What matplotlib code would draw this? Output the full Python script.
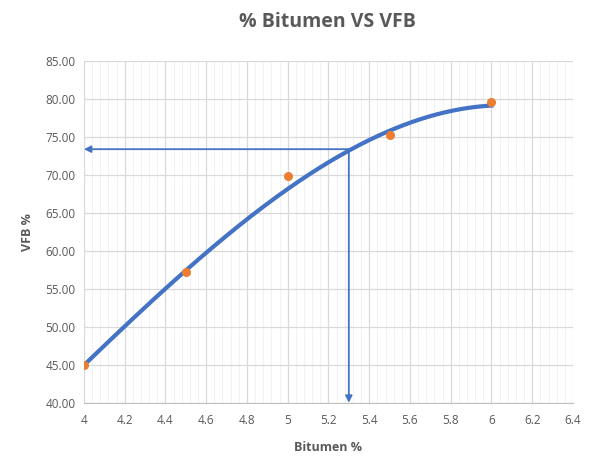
import numpy as np
import matplotlib.pyplot as plt
from matplotlib.ticker import MultipleLocator, FuncFormatter

# Data
bitumen = [4.0, 4.5, 5.0, 5.5, 6.0]
vfb = [45.0, 57.2, 69.9, 75.3, 79.6]
# trendline as it crosses the same x positions in the picture
trend_vfb = [45.0, 57.2, 68.5, 75.6, 79.2]
design_bitumen = 5.3
design_vfb = 73.4

plt.rcParams['font.family'] = ['Open Sans', 'DejaVu Sans']

fig = plt.figure(figsize=(5.95, 4.70), dpi=100)
ax = fig.add_axes([0.141, 0.143, 0.822, 0.727])

# smooth polynomial trendline
coef = np.polyfit(bitumen, trend_vfb, 3)
xs = np.linspace(min(bitumen), max(bitumen), 200)
ax.plot(xs, np.polyval(coef, xs), color='#4472C4', lw=3, zorder=3)
ax.scatter(bitumen, vfb, color='#ED7D31', s=30, zorder=4)

# reading arrows
ax.annotate('', xy=(4.0, design_vfb), xytext=(design_bitumen, design_vfb),
            arrowprops=dict(arrowstyle='-|>', color='#4472C4', lw=1.3,
                            mutation_scale=10, shrinkA=0, shrinkB=0), zorder=2)
ax.annotate('', xy=(design_bitumen, 40.0), xytext=(design_bitumen, design_vfb),
            arrowprops=dict(arrowstyle='-|>', color='#4472C4', lw=1.3,
                            mutation_scale=10, shrinkA=0, shrinkB=0), zorder=2)

ax.set_xlim(4, 6.4)
ax.set_ylim(40, 85)
ax.xaxis.set_major_locator(MultipleLocator(0.2))
ax.xaxis.set_minor_locator(MultipleLocator(0.04))
ax.yaxis.set_major_locator(MultipleLocator(5))
ax.xaxis.set_major_formatter(FuncFormatter(lambda v, p: f'{v:g}'))
ax.yaxis.set_major_formatter(FuncFormatter(lambda v, p: f'{v:.2f}'))

ax.grid(which='major', color='#D9D9D9', lw=0.9)
ax.grid(which='minor', axis='x', color='#F0F0F0', lw=0.6)
ax.set_axisbelow(True)
for s in ['top', 'right', 'left']:
    ax.spines[s].set_visible(False)
ax.spines['bottom'].set_color('#BFBFBF')
ax.tick_params(which='both', length=0, colors='#595959', labelsize=8.5)
ax.tick_params(axis='x', pad=8)
ax.tick_params(axis='y', pad=6)

ax.set_xlabel('Bitumen %', fontsize=9, fontweight='bold', color='#595959', labelpad=10)
ax.set_ylabel('VFB %', fontsize=9, fontweight='bold', color='#595959', labelpad=8)
fig.suptitle('% Bitumen VS VFB', x=0.55, y=0.975, fontsize=14, fontweight='bold', color='#595959')

fig.savefig('out.png', dpi=100)
